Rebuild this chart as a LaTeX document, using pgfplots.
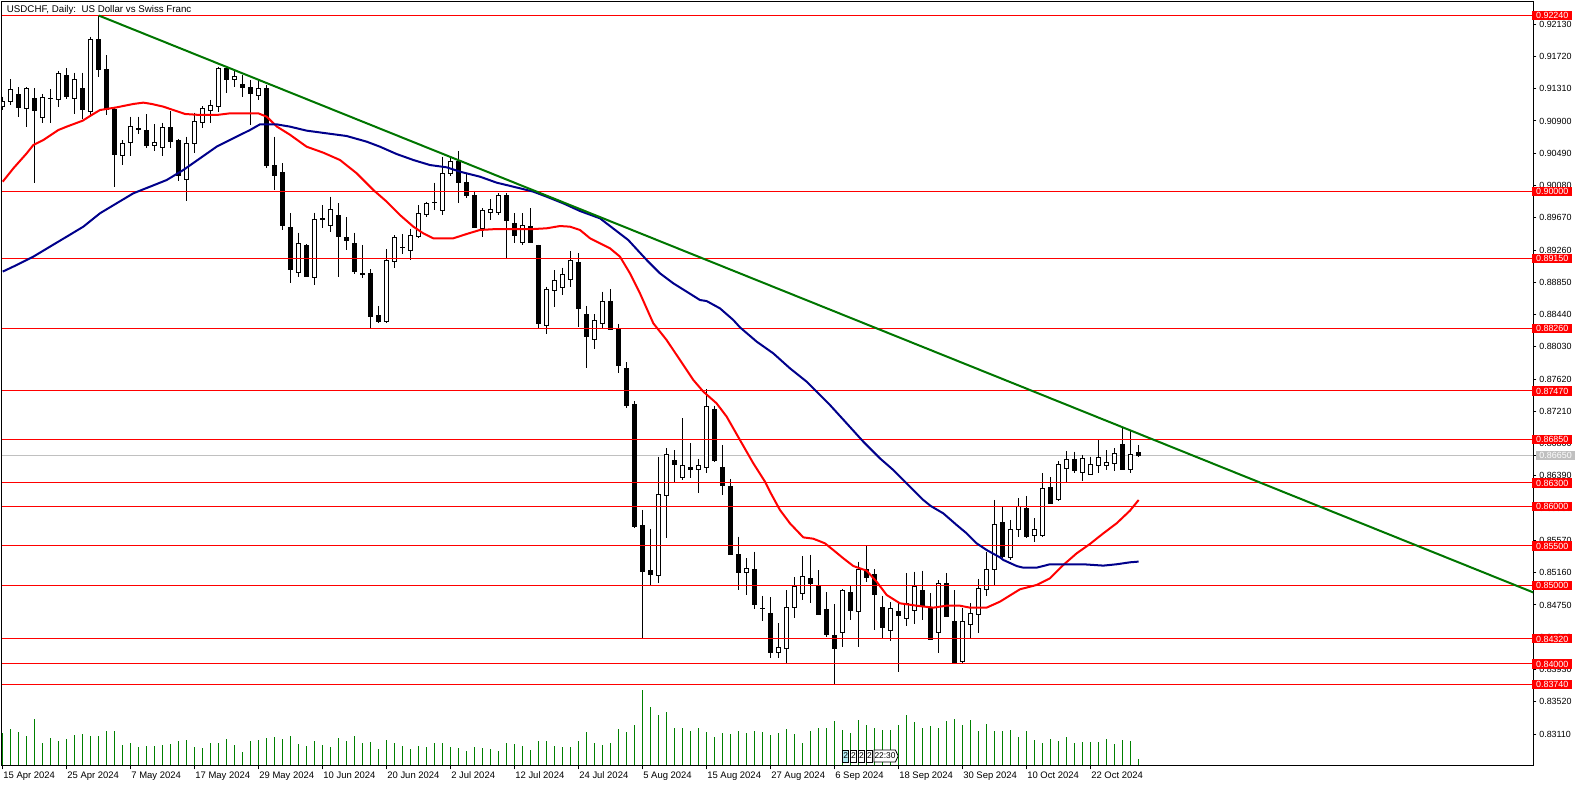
\documentclass[border=0pt]{standalone}
\usepackage{pgfplots}
\pgfplotsset{compat=1.18}
\usepackage{pgfplotstable}
\usepackage{fontspec}
\setmainfont{Liberation Sans}
\definecolor{maRed}{RGB}{255,0,0}
\definecolor{maBlue}{RGB}{0,0,139}
\definecolor{trendGreen}{RGB}{0,118,0}
\definecolor{volGreen}{RGB}{0,128,0}
\definecolor{bidGray}{RGB}{192,192,192}
\definecolor{evCyan}{RGB}{176,232,242}
\newcommand\tickfont{\fontsize{6.7pt}{8pt}\selectfont}
\newcommand\datefont{\fontsize{7.1pt}{8pt}\selectfont}

\pgfplotstableread{
i o h l c
0 0.91082 0.91209 0.91039 0.91145
1 0.91145 0.91433 0.91103 0.91294
2 0.91239 0.91327 0.90946 0.91069
3 0.91061 0.91327 0.90819 0.91315
4 0.91188 0.91315 0.90116 0.91039
5 0.90942 0.91243 0.90870 0.91200
6 0.91190 0.91302 0.90879 0.91186
7 0.91175 0.91535 0.91082 0.91505
8 0.91484 0.91569 0.91175 0.91209
9 0.91188 0.91514 0.90989 0.91421
10 0.91315 0.91514 0.90921 0.91048
11 0.91018 0.91971 0.90976 0.91937
12 0.91929 0.92240 0.91463 0.91560
13 0.91556 0.91738 0.90976 0.91048
14 0.91048 0.91061 0.90065 0.90480
15 0.90459 0.90658 0.90341 0.90616
16 0.90624 0.90955 0.90455 0.90828
17 0.90807 0.90955 0.90735 0.90794
18 0.90785 0.90984 0.90552 0.90582
19 0.90586 0.90857 0.90523 0.90629
20 0.90565 0.90879 0.90455 0.90819
21 0.90819 0.91027 0.90552 0.90637
22 0.90658 0.90665 0.90137 0.90205
23 0.90150 0.90701 0.89883 0.90616
24 0.90608 0.91006 0.90489 0.90891
25 0.90879 0.91090 0.90807 0.91061
26 0.91035 0.91167 0.90870 0.91099
27 0.91082 0.91590 0.91018 0.91569
28 0.91569 0.91599 0.91251 0.91429
29 0.91429 0.91548 0.91336 0.91463
30 0.91366 0.91484 0.91209 0.91327
31 0.91327 0.91421 0.90849 0.91243
32 0.91222 0.91421 0.91167 0.91315
33 0.91315 0.91357 0.90298 0.90328
34 0.90328 0.90701 0.90023 0.90205
35 0.90248 0.90362 0.89515 0.89566
36 0.89549 0.89726 0.88846 0.89015
37 0.88973 0.89481 0.88922 0.89345
38 0.89324 0.89333 0.88914 0.88922
39 0.88913 0.89735 0.88812 0.89650
40 0.89650 0.89832 0.89536 0.89655
41 0.89570 0.89938 0.89493 0.89769
42 0.89705 0.89853 0.88922 0.89430
43 0.89417 0.89676 0.89260 0.89379
44 0.89345 0.89481 0.88956 0.88985
45 0.88964 0.89324 0.88901 0.88947
46 0.88956 0.89015 0.88265 0.88414
47 0.88422 0.88549 0.88329 0.88358
48 0.88358 0.89269 0.88329 0.89133
49 0.89112 0.89451 0.89028 0.89421
50 0.89290 0.89464 0.89210 0.89298
51 0.89252 0.89532 0.89133 0.89447
52 0.89430 0.89832 0.89409 0.89726
53 0.89714 0.89875 0.89676 0.89853
54 0.89858 0.90116 0.89769 0.89866
55 0.89760 0.90446 0.89705 0.90235
56 0.90235 0.90446 0.90201 0.90383
57 0.90383 0.90518 0.89853 0.90116
58 0.90116 0.90235 0.89917 0.89951
59 0.89959 0.90014 0.89536 0.89549
60 0.89536 0.89790 0.89430 0.89760
61 0.89739 0.89904 0.89642 0.89777
62 0.89739 0.89981 0.89705 0.89959
63 0.89947 0.89981 0.89155 0.89633
64 0.89591 0.89726 0.89345 0.89443
65 0.89354 0.89726 0.89324 0.89570
66 0.89557 0.89790 0.89345 0.89354
67 0.89324 0.89330 0.88265 0.88329
68 0.88299 0.88795 0.88193 0.88761
69 0.88744 0.89006 0.88540 0.88879
70 0.88786 0.89036 0.88689 0.88943
71 0.88888 0.89248 0.88795 0.89133
72 0.89104 0.89218 0.88286 0.88519
73 0.88447 0.88549 0.87765 0.88159
74 0.88125 0.88447 0.87998 0.88371
75 0.88329 0.88731 0.88265 0.88612
76 0.88604 0.88761 0.88244 0.88252
77 0.88244 0.88316 0.87702 0.87791
78 0.87749 0.87833 0.87257 0.87283
79 0.87291 0.87342 0.85733 0.85745
80 0.85754 0.85957 0.84327 0.85174
81 0.85182 0.85716 0.85004 0.85140
82 0.85123 0.86635 0.85025 0.86156
83 0.86139 0.86741 0.85597 0.86656
84 0.86580 0.86719 0.86317 0.86537
85 0.86368 0.87122 0.86338 0.86516
86 0.86499 0.86804 0.86359 0.86474
87 0.86474 0.86605 0.86169 0.86516
88 0.86495 0.87494 0.86431 0.87270
89 0.87228 0.87283 0.86571 0.86580
90 0.86499 0.86783 0.86148 0.86266
91 0.86253 0.86351 0.85385 0.85394
92 0.85385 0.85618 0.84941 0.85161
93 0.85165 0.85343 0.84877 0.85216
94 0.85203 0.85427 0.84699 0.84762
95 0.84707 0.84864 0.84551 0.84710
96 0.84644 0.84847 0.84081 0.84144
97 0.84144 0.84517 0.84081 0.84212
98 0.84199 0.84940 0.84000 0.84720
99 0.84720 0.85101 0.84580 0.84991
100 0.84898 0.85372 0.84813 0.85110
101 0.85088 0.85385 0.84779 0.85017
102 0.84991 0.85194 0.84623 0.84635
103 0.84695 0.84911 0.84339 0.84381
104 0.84364 0.84762 0.83746 0.84199
105 0.84398 0.84953 0.84212 0.84928
106 0.84911 0.84991 0.84559 0.84678
107 0.84665 0.85300 0.84220 0.85203
108 0.85203 0.85499 0.85046 0.85101
109 0.85139 0.85203 0.84432 0.84885
110 0.84720 0.84864 0.84326 0.84462
111 0.84423 0.84784 0.84292 0.84707
112 0.84665 0.84792 0.83903 0.84614
113 0.84580 0.85152 0.84487 0.84771
114 0.84678 0.85173 0.84508 0.84991
115 0.84928 0.85186 0.84559 0.84737
116 0.84716 0.84898 0.84305 0.84314
117 0.84398 0.85067 0.84144 0.85025
118 0.85025 0.85152 0.84593 0.84601
119 0.84538 0.84940 0.84000 0.84017
120 0.84030 0.84707 0.84009 0.84538
121 0.84504 0.84771 0.84314 0.84644
122 0.84631 0.85080 0.84398 0.84961
123 0.84949 0.85427 0.84864 0.85203
124 0.85203 0.86084 0.85004 0.85775
125 0.85800 0.85991 0.85343 0.85364
126 0.85355 0.85830 0.85322 0.85703
127 0.85703 0.86105 0.85618 0.85999
128 0.85978 0.86135 0.85597 0.85618
129 0.85627 0.85851 0.85555 0.85711
130 0.85631 0.86423 0.85618 0.86232
131 0.86245 0.86372 0.86033 0.86042
132 0.86084 0.86579 0.86075 0.86541
133 0.86486 0.86706 0.86296 0.86601
134 0.86601 0.86698 0.86431 0.86457
135 0.86435 0.86656 0.86330 0.86613
136 0.86414 0.86635 0.86402 0.86541
137 0.86516 0.86846 0.86423 0.86626
138 0.86516 0.86719 0.86465 0.86562
139 0.86550 0.86740 0.86457 0.86677
140 0.86783 0.86994 0.86465 0.86474
141 0.86474 0.86973 0.86431 0.86664
142 0.86685 0.86783 0.86635 0.86650
}\candles

\pgfplotstableread{
i v
0 100
1 112
2 103
3 91
4 142
5 70
6 85
7 76
8 82
9 94
10 97
11 91
12 91
13 106
14 106
15 64
16 70
17 58
18 61
19 61
20 64
21 67
22 76
23 79
24 58
25 55
26 70
27 70
28 82
29 64
30 43
31 76
32 79
33 85
34 88
35 82
36 91
37 67
38 61
39 76
40 64
41 58
42 85
43 76
44 91
45 70
46 73
47 52
48 79
49 70
50 61
51 52
52 61
53 58
54 70
55 70
56 58
57 55
58 46
59 58
60 55
61 52
62 46
63 70
64 67
65 61
66 49
67 76
68 76
69 61
70 58
71 58
72 76
73 103
74 70
75 64
76 70
77 112
78 103
79 124
80 229
81 178
82 154
83 163
84 115
85 115
86 106
87 115
88 103
89 88
90 100
91 97
92 106
93 100
94 106
95 103
96 94
97 100
98 112
99 97
100 70
101 106
102 115
103 115
104 136
105 109
106 100
107 139
108 124
109 115
110 109
111 109
112 124
113 154
114 133
115 115
116 121
117 115
118 136
119 142
120 124
121 139
122 106
123 127
124 106
125 106
126 109
127 88
128 106
129 79
130 70
131 82
132 76
133 88
134 70
135 73
136 73
137 73
138 82
139 67
140 79
141 76
142 22
}\volumes

\pgfplotstableread{
i p
0 0.90129
1.33 0.90298
3.0 0.90489
3.83 0.90595
5.08 0.90658
6.95 0.90785
8.0 0.90828
10.0 0.90904
11.12 0.90976
12.16 0.91039
14.24 0.91073
16.33 0.91116
17.58 0.91133
18.62 0.91116
20.08 0.91082
21.33 0.91039
22.79 0.90989
24.66 0.90976
26.75 0.90976
28.41 0.90997
31.95 0.90997
33.0 0.90955
34.25 0.90830
35.91 0.90725
37.99 0.90573
40.08 0.90497
42.16 0.90404
44.25 0.90235
46.33 0.90023
48.0 0.89875
49.66 0.89705
51.33 0.89557
52.58 0.89472
53.83 0.89409
56.33 0.89409
58.0 0.89464
59.66 0.89515
61.75 0.89527
66.33 0.89527
67.99 0.89536
69.66 0.89565
70.91 0.89557
72.16 0.89515
73.41 0.89410
74.66 0.89345
75.91 0.89282
77.16 0.89176
78.41 0.88964
79.66 0.88710
81.33 0.88329
82.99 0.88117
84.66 0.87863
86.33 0.87609
87.58 0.87461
89.24 0.87312
90.5 0.87143
92.16 0.86846
93.83 0.86550
95.29 0.86317
95.91 0.86190
97.16 0.85957
98.41 0.85787
100.08 0.85609
101.33 0.85592
102.79 0.85533
103.83 0.85448
105.08 0.85343
106.33 0.85245
107.99 0.85186
109.24 0.85046
110.5 0.84877
112.16 0.84771
114.24 0.84741
116.33 0.84716
117.99 0.84741
119.66 0.84741
120.91 0.84716
122.99 0.84716
124.66 0.84792
127.16 0.84949
129.24 0.85004
130.91 0.85089
132.58 0.85258
134.25 0.85406
135.91 0.85525
137.58 0.85660
139.24 0.85787
140.91 0.85948
142.0 0.86084
}\maRedTab

\pgfplotstableread{
i p
0 0.88986
1.75 0.89070
3.83 0.89176
5.91 0.89303
8.0 0.89430
10.08 0.89557
12.16 0.89727
14.24 0.89854
16.33 0.89981
18.41 0.90065
20.5 0.90150
22.58 0.90277
24.66 0.90425
26.75 0.90574
28.83 0.90680
30.91 0.90785
32.16 0.90857
34.24 0.90857
35.91 0.90828
37.99 0.90777
42.99 0.90709
45.5 0.90637
47.16 0.90573
49.24 0.90480
51.33 0.90404
53.41 0.90340
55.5 0.90311
57.16 0.90256
59.66 0.90192
61.75 0.90116
63.83 0.90065
66.33 0.90002
67.99 0.89938
70.08 0.89853
72.16 0.89756
74.66 0.89663
78.2 0.89387
80.5 0.89133
82.16 0.88964
83.83 0.88837
85.5 0.88731
87.16 0.88625
87.99 0.88612
89.66 0.88519
91.33 0.88371
92.16 0.88278
94.25 0.88096
96.33 0.87947
98.41 0.87757
100.5 0.87587
101.75 0.87460
103.41 0.87291
105.5 0.87058
107.58 0.86825
109.66 0.86613
111.33 0.86465
112.99 0.86296
115.08 0.86084
116.0 0.86008
117.58 0.85914
119.25 0.85766
120.5 0.85660
121.75 0.85533
123.0 0.85448
124.66 0.85355
125.08 0.85322
126.75 0.85245
127.58 0.85224
129.24 0.85224
130.91 0.85267
133.0 0.85267
135.08 0.85267
137.58 0.85250
139.24 0.85267
140.91 0.85292
142.0 0.85301
}\maBlueTab

\pgfplotsset{
  chartbase/.style={
    scale only axis, width=1148.25pt, height=573pt,
    xmin=-0.09, xmax=191.3, ymin=0.82704, ymax=0.92412,
    at={(0pt,0pt)}, anchor=south west,
  },
  pricefmt/.style={/pgf/number format/fixed, /pgf/number format/fixed zerofill,
    /pgf/number format/precision=5, /pgf/number format/assume math mode=true},
}

\begin{document}
\begin{tikzpicture}
\useasboundingbox[fill=white] (-1.5pt,-15.75pt) rectangle (1188pt,574.5pt);

% volumes
\begin{axis}[chartbase, hide axis, ymin=0, ymax=2292]
\addplot[ycomb, volGreen, line width=0.75pt, mark=none] table[x=i,y=v]{\volumes};
\end{axis}

% frame, ticks, wicks
\begin{axis}[chartbase,
  axis line style={black, line width=0.75pt},
  tick align=outside, major tick length=2.5pt,
  tick style={black, line width=0.75pt},
  xtick pos=left, ytick pos=right, yticklabel pos=right,
  xtick={0,8,...,136},
  xticklabels={15 Apr 2024,25 Apr 2024,7 May 2024,17 May 2024,29 May 2024,10 Jun 2024,20 Jun 2024,2 Jul 2024,12 Jul 2024,24 Jul 2024,5 Aug 2024,15 Aug 2024,27 Aug 2024,6 Sep 2024,18 Sep 2024,30 Sep 2024,10 Oct 2024,22 Oct 2024},
  ytick={0.83110,0.83520,0.83930,0.84340,0.84750,0.85160,0.85570,0.85980,0.86390,0.86800,0.87210,0.87620,0.88030,0.88440,0.88850,0.89260,0.89670,0.90080,0.90490,0.90900,0.91310,0.91720,0.92130},
  scaled y ticks=false,
  yticklabel style={pricefmt, anchor=west, inner sep=0pt, font=\tickfont, xshift=2pt},
  xticklabel style={anchor=north west, inner sep=0pt, font=\datefont, xshift=0.3pt, yshift=-1.8pt},
  extra y ticks={0.86650},
  extra y tick style={grid=major, major grid style={bidGray, line width=0.75pt},
    yticklabel style={fill=bidGray, text=white, inner xsep=2.7pt, inner ysep=1.1pt, text height=4.8pt, text depth=0pt, xshift=-2.6pt}},
]
\addplot[draw=none, mark=none, error bars/.cd, y dir=minus, y explicit, error mark=none,
  error bar style={draw=black, line width=0.75pt}]
  table[x=i, y=h, y error minus expr=\thisrow{h}-\thisrow{l}]{\candles};
\end{axis}

% candle bodies
\begin{axis}[chartbase, hide axis, ybar stacked, bar width=3pt]
\addplot[draw=none, fill=none] table[x=i, y expr={min(\thisrow{o},\thisrow{c})}]{\candles};
\addplot[fill=white, draw=black, line width=0.75pt] table[x=i, y expr={max(\thisrow{c}-\thisrow{o},0)}]{\candles};
\addplot[fill=black, draw=black, line width=0.75pt] table[x=i, y expr={max(\thisrow{o}-\thisrow{c},0)}]{\candles};
\end{axis}

% levels, moving averages, trend line
\begin{axis}[chartbase,
  axis line style={draw=none}, xtick=\empty, ytick=\empty, major tick length=0pt,
  ytick pos=right, yticklabel pos=right, scaled y ticks=false,
  yticklabel style={pricefmt, anchor=west, font=\tickfont, fill=maRed, text=white,
    inner xsep=2.7pt, inner ysep=1.1pt, text height=4.8pt, text depth=0pt, xshift=-0.6pt},
  extra y ticks={0.92240,0.90000,0.89150,0.88260,0.87470,0.86850,0.86300,0.86000,0.85500,0.85000,0.84320,0.84000,0.83740},
  extra y tick style={grid=major, major grid style={maRed, line width=0.75pt}},
]
\addplot[maRed, line width=1.5pt, mark=none, line join=round] table[x=i,y=p]{\maRedTab};
\addplot[maBlue, line width=1.5pt, mark=none, line join=round] table[x=i,y=p]{\maBlueTab};
\addplot[trendGreen, line width=1.5pt, mark=none] coordinates {(12,0.92240) (200,0.84555)};
\end{axis}

% title
\node[anchor=west, inner sep=0pt, font=\fontsize{7.3pt}{8pt}\selectfont] at (3.5pt,567pt) {USDCHF, Daily:\ \ US Dollar vs Swiss Franc};

% event markers
\begin{scope}[line width=0.6pt, font=\fontsize{6.3pt}{7pt}\selectfont]
\draw[fill=evCyan] (630.5pt,3pt) rectangle (635pt,12pt);
\node[inner sep=0pt] at (632.75pt,7.5pt) {2};
\draw[fill=white] (636pt,3pt) rectangle (641pt,12pt);
\node[inner sep=0pt] at (638.5pt,7.5pt) {2};
\draw[fill=white] (642pt,3pt) rectangle (647pt,12pt);
\node[inner sep=0pt] at (644.5pt,7.5pt) {2};
\draw[fill=white] (648pt,3pt) rectangle (653pt,12pt);
\node[inner sep=0pt] at (650.5pt,7.5pt) {2};
\draw[fill=white] (654pt,3pt) -- (670pt,3pt) -- (672.2pt,7.5pt) -- (670pt,12pt) -- (654pt,12pt) -- cycle;
\node[inner sep=0pt] at (662.3pt,7.5pt) {22:30};
\end{scope}
\end{tikzpicture}
\end{document}
